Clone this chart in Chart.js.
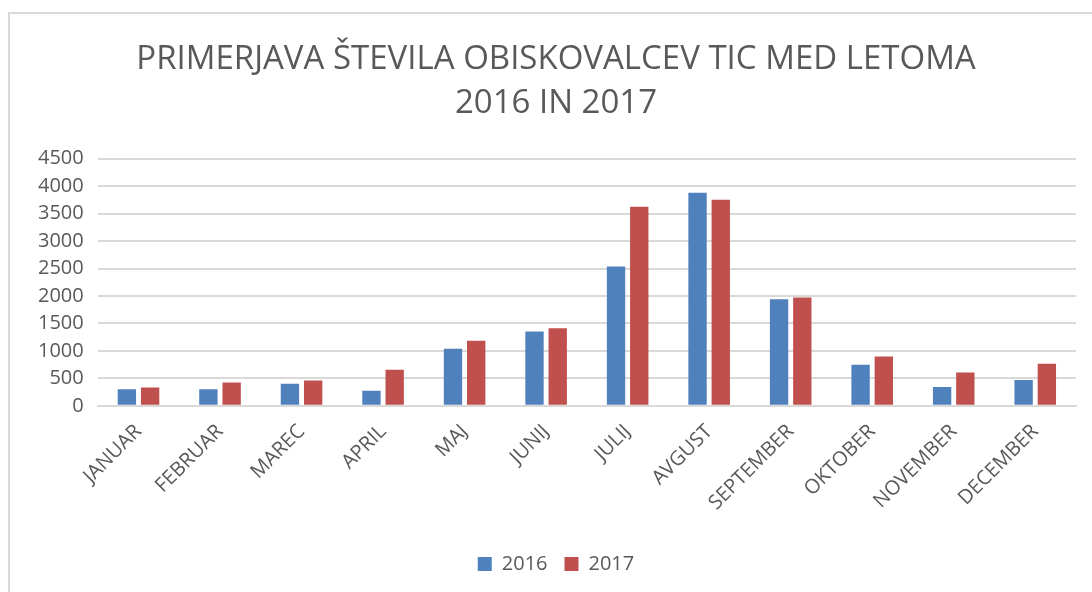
<!DOCTYPE html>
<html>
<head>
<meta charset="utf-8">
<script src="https://cdn.jsdelivr.net/npm/chart.js@4"></script>
<style>
  body { margin: 0; background: #fff; overflow: hidden; }
  #frame { position: absolute; left: 8px; top: 12px; width: 1100px; height: 600px; border: 2px solid #d9d9d9; box-sizing: border-box; }
  #wrap { position: absolute; left: 0; top: 0; width: 1112px; height: 592px; }
</style>
</head>
<body>
<div id="frame"></div>
<div id="wrap"><canvas id="myChart"></canvas></div>
<script>
// ---------------------------data---------------------------
var months = ["JANUAR", "FEBRUAR", "MAREC", "APRIL", "MAJ", "JUNIJ", "JULIJ", "AVGUST", "SEPTEMBER", "OKTOBER", "NOVEMBER", "DECEMBER"];
var visitors2016 = [300, 300, 400, 275, 1040, 1355, 2540, 3880, 1940, 750, 345, 470];
var visitors2017 = [335, 425, 460, 655, 1185, 1415, 3625, 3755, 1975, 900, 605, 765];
var yTicks = [0, 500, 1000, 1500, 2000, 2500, 3000, 3500, 4000, 4500];

var grey = "#595959";
var font = "'Open Sans', sans-serif";

new Chart("myChart", {
  type: "bar",
  data: {
    labels: months,
    datasets: [{
      label: "2016",
      data: visitors2016,
      backgroundColor: "#4F81BD"
    }, {
      label: "2017",
      data: visitors2017,
      backgroundColor: "#C0504D"
    }]
  },
  options: {
    responsive: true,
    maintainAspectRatio: false,
    animation: false,
    layout: { padding: { left: 36, right: 36, top: 0, bottom: 8 } },
    datasets: { bar: { categoryPercentage: 0.57, barPercentage: 0.79 } },
    plugins: {
      title: {
        display: true,
        text: ["PRIMERJAVA ŠTEVILA OBISKOVALCEV TIC MED LETOMA", "2016 IN 2017"],
        color: grey,
        font: { family: font, size: 33, weight: "normal", lineHeight: 1.33 },
        padding: { top: 38, bottom: 33 }
      },
      legend: {
        position: "bottom",
        labels: {
          color: grey,
          font: { family: font, size: 20 },
          boxWidth: 14,
          boxHeight: 14,
          padding: 17
        }
      },
      tooltip: { enabled: false }
    },
    scales: {
      x: {
        grid: { display: false },
        border: { color: "#d9d9d9", width: 2 },
        ticks: { color: grey, font: { family: font, size: 20 }, minRotation: 45, maxRotation: 45, padding: 6 },
        afterFit: function (scale) { scale.height += 16; }
      },
      y: {
        min: 0,
        max: 4500,
        afterBuildTicks: function (axis) {
          axis.ticks = yTicks.map(function (v) { return { value: v }; });
        },
        afterFit: function (scale) { scale.width -= 12; },
        grid: { color: "#d9d9d9", lineWidth: 2, drawTicks: false },
        border: { display: false },
        ticks: {
          color: grey,
          font: { family: font, size: 20 },
          padding: 14,
          callback: function (v) { return String(v); }
        }
      }
    }
  }
});
</script>
</body>
</html>
